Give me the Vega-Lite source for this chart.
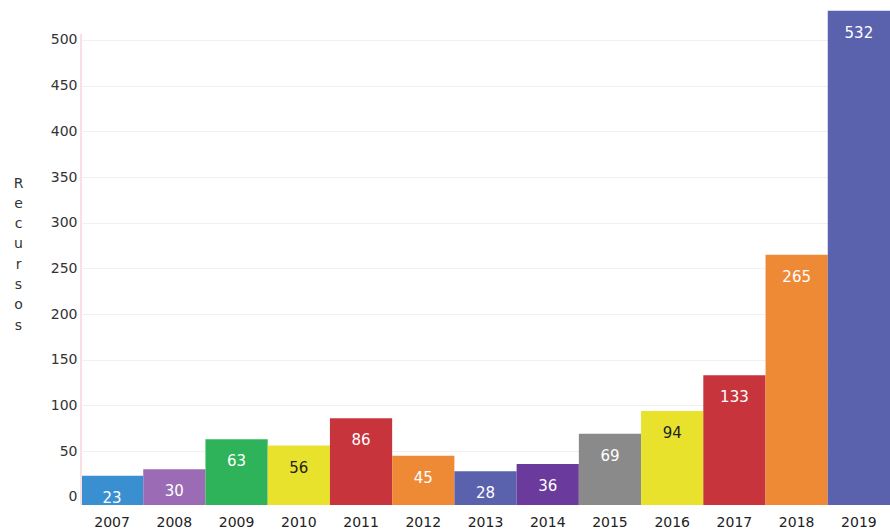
{
  "$schema": "https://vega.github.io/schema/vega-lite/v6.json",
  "width": 809,
  "height": 497,
  "padding": {"left": 13, "top": 8, "right": 0, "bottom": 0},
  "background": "white",
  "config": {"view": {"stroke": null}, "font": "DejaVu Sans"},
  "data": {"values": [
    {"year": "2007", "recursos": 23, "grupo": "a"},
    {"year": "2008", "recursos": 30, "grupo": "b"},
    {"year": "2009", "recursos": 63, "grupo": "c"},
    {"year": "2010", "recursos": 56, "grupo": "d"},
    {"year": "2011", "recursos": 86, "grupo": "e"},
    {"year": "2012", "recursos": 45, "grupo": "f"},
    {"year": "2013", "recursos": 28, "grupo": "g"},
    {"year": "2014", "recursos": 36, "grupo": "h"},
    {"year": "2015", "recursos": 69, "grupo": "i"},
    {"year": "2016", "recursos": 94, "grupo": "j"},
    {"year": "2017", "recursos": 133, "grupo": "k"},
    {"year": "2018", "recursos": 265, "grupo": "l"},
    {"year": "2019", "recursos": 532, "grupo": "m"}
  ]},
  "encoding": {
    "x": {
      "field": "year", "type": "ordinal", "sort": null,
      "scale": {"paddingInner": 0, "paddingOuter": 0},
      "axis": {"title": null, "labelAngle": 0, "domain": false, "ticks": false,
               "labelPadding": 10, "labelFontSize": 14, "labelColor": "#222"}
    }
  },
  "layer": [
    {
      "mark": {"type": "bar"},
      "encoding": {
        "y": {
          "field": "recursos", "type": "quantitative",
          "scale": {"domain": [-9, 535], "nice": false, "zero": false},
          "axis": {
            "values": [0, 50, 100, 150, 200, 250, 300, 350, 400, 450, 500],
            "title": ["R", "e", "c", "u", "r", "s", "o", "s"],
            "titleAngle": 0, "titleAlign": "center", "titleBaseline": "top",
            "titleX": -63, "titleY": 168, "titleFontSize": 14, "titleFontWeight": "normal",
            "titleLineHeight": 20.3, "titleColor": "#333",
            "labelFontSize": 14, "labelColor": "#333", "labelPadding": 4,
            "ticks": false, "domain": false,
            "gridColor": "#f4efef", "gridWidth": 1
          }
        },
        "y2": {"datum": -9},
        "color": {
          "field": "grupo", "type": "nominal", "legend": null,
          "scale": {
            "domain": ["a","b","c","d","e","f","g","h","i","j","k","l","m"],
            "range": ["#3a8fd0", "#9b6bb5", "#2fb35a", "#e8e22c", "#c8343c", "#ee8a36", "#5a62ad", "#6a3a9c", "#8a8a8a", "#e8e22c", "#c8343c", "#ee8a36", "#5a62ad"]
          }
        }
      }
    },
    {
      "mark": {"type": "rule", "color": "#f7dfe3", "strokeWidth": 1.5},
      "encoding": {
        "x": {"datum": "2007", "type": "ordinal", "bandPosition": 0},
        "y": {"datum": 506, "type": "quantitative"},
        "y2": {"datum": -9}
      }
    },
    {
      "mark": {"type": "text", "baseline": "middle", "dy": 22, "fontSize": 15},
      "encoding": {
        "y": {"field": "recursos", "type": "quantitative"},
        "text": {"field": "recursos", "type": "quantitative"},
        "color": {
          "condition": {"test": "datum.year === '2010' || datum.year === '2016'", "value": "#222"},
          "value": "white"
        }
      }
    }
  ]
}
